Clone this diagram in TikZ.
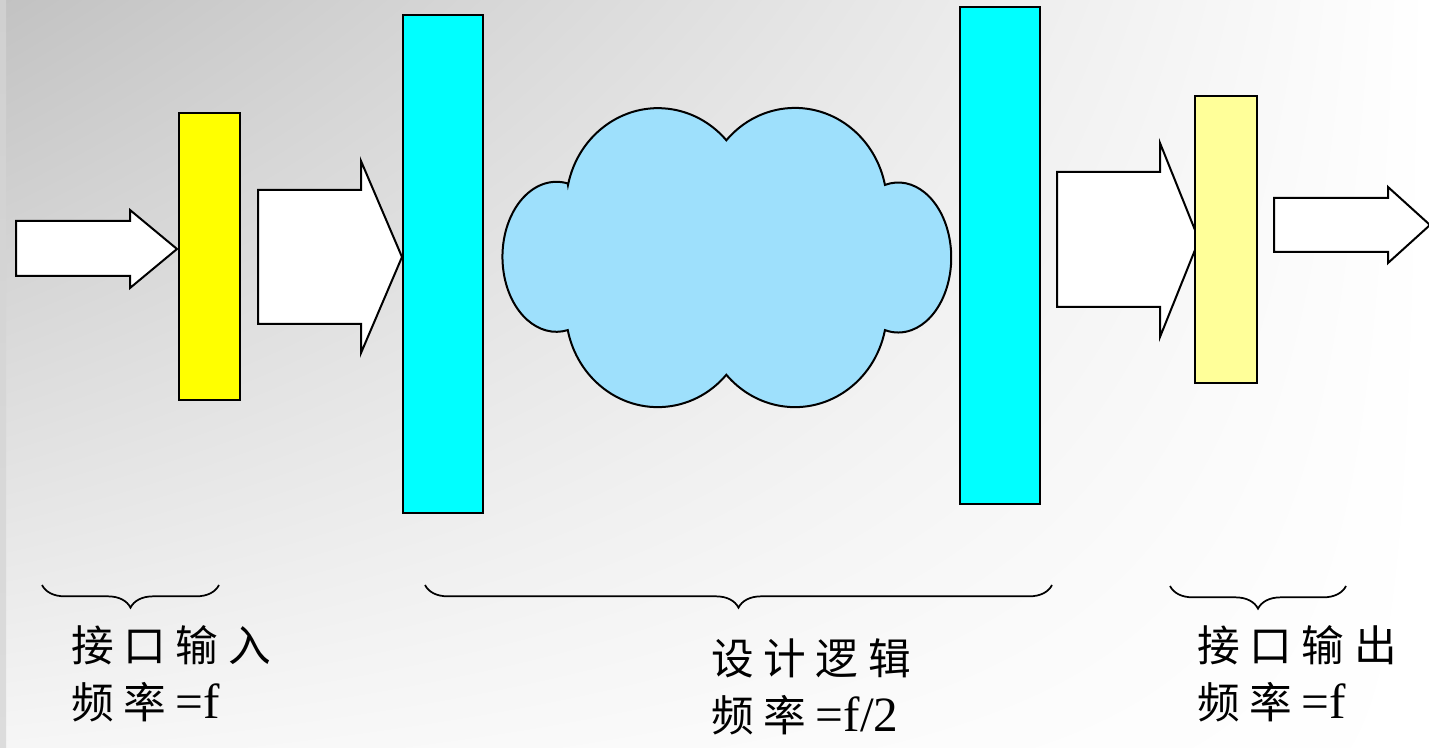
\documentclass[tikz,border=0pt]{standalone}
\usepackage{fontspec}
\setmainfont{Liberation Serif}
\newfontfamily\cjk{Noto Sans CJK SC}
\usetikzlibrary{decorations.pathreplacing,shadings}

\definecolor{bgdark}{RGB}{194,194,194}
\definecolor{bglight}{RGB}{246,246,246}
\definecolor{stripa}{RGB}{208,208,208}
\definecolor{stripb}{RGB}{168,168,168}
\definecolor{stripc}{RGB}{220,220,220}

\newcommand\latin[1]{{\rmfamily\fontsize{37}{43}\selectfont #1}}

\tikzset{every picture/.style={line width=0.75pt}}
\tikzset{
  outline/.style={draw=black, line width=1.5},
  labeltext/.style={anchor=north west, inner sep=0pt, align=left, font=\cjk\fontsize{32}{43}\selectfont},
  bracedown/.style={decorate, decoration={brace, mirror, amplitude=17pt}, line width=1.3},
}

\begin{document}
\begin{tikzpicture}[x=0.75pt,y=0.75pt,yscale=-1,xscale=1]
\useasboundingbox (0,0) rectangle (1429,748);

%Background
\shade [upper left=bgdark, upper right=white, lower left=bglight, lower right=white] (0,0) rectangle (1429,748) ;
\shade [top color=stripa, middle color=stripb, bottom color=stripc] (0,0) rectangle (6,748) ;

%Shape: Right Arrow [id:in]
\draw [outline, fill=white] (16,221) -- (130,221) -- (130,210) -- (177,249) -- (130,288) -- (130,276) -- (16,276) -- cycle ;
%Shape: Rectangle [id:inreg]
\draw [outline, fill={rgb, 255:red, 255; green, 255; blue, 0 }] (179,113) rectangle (240,400) ;
%Shape: Right Arrow [id:tologic]
\draw [outline, fill=white] (258,190) -- (361,190) -- (361,161) -- (402,257) -- (361,353) -- (361,324) -- (258,324) -- cycle ;
%Shape: Rectangle [id:sync1]
\draw [outline, fill={rgb, 255:red, 0; green, 255; blue, 255 }] (403,15) rectangle (483,513) ;

%Shape: Cloud [id:logic]
\draw [outline, fill={rgb, 255:red, 158; green, 224; blue, 252 }] (568,185)
  arc [start angle=192, end angle=318, x radius=92, y radius=97]
  arc [start angle=221.8, end angle=348.1, x radius=92, y radius=97]
  arc [start angle=-104.5, end angle=104.5, x radius=53, y radius=75]
  arc [start angle=11.9, end angle=138.2, x radius=92, y radius=97]
  arc [start angle=41.8, end angle=168.1, x radius=92, y radius=97]
  arc [start angle=77.9, end angle=282.1, x radius=54, y radius=75]
  -- cycle ;

%Shape: Rectangle [id:sync2]
\draw [outline, fill={rgb, 255:red, 0; green, 255; blue, 255 }] (960,7) rectangle (1040,504) ;
%Shape: Right Arrow [id:fromlogic]
\draw [outline, fill=white] (1057,172) -- (1160,172) -- (1160,143) -- (1199,240) -- (1160,337) -- (1160,307) -- (1057,307) -- cycle ;
%Shape: Rectangle [id:outreg]
\draw [outline, fill={rgb, 255:red, 255; green, 255; blue, 153 }] (1195,96) rectangle (1257,383) ;
%Shape: Right Arrow [id:out]
\draw [outline, fill=white] (1274,198) -- (1388,198) -- (1388,187) -- (1430,225) -- (1388,263) -- (1388,252) -- (1274,252) -- cycle ;

%Braces
\draw [bracedown] (42,585) -- (219,585) ;
\draw [bracedown] (425,585) -- (1052,585) ;
\draw [bracedown] (1170,586) -- (1346,586) ;

% Text Node
\draw (71,625) node [labeltext] (inlabel) {接 口 输 入\\频 率 \latin{=f}};
% Text Node
\draw (711,638) node [labeltext] (logiclabel) {设 计 逻 辑\\频 率 \latin{=f/2}};
% Text Node
\draw (1197,625) node [labeltext] (outlabel) {接 口 输 出\\频 率 \latin{=f}};

\end{tikzpicture}
\end{document}
